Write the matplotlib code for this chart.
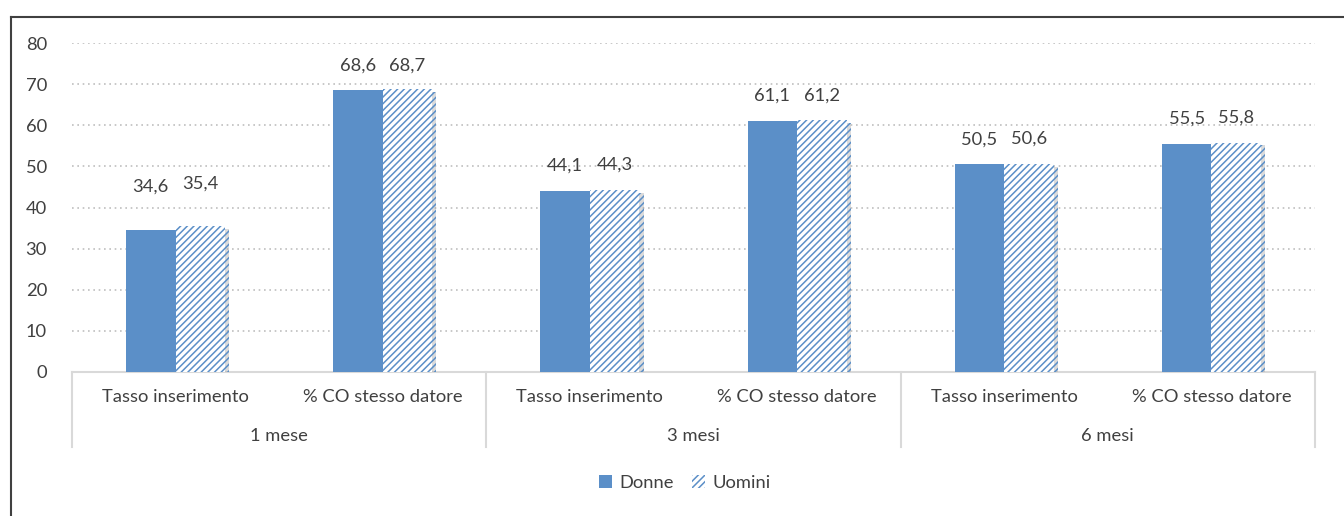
import numpy as np
import matplotlib
matplotlib.use("Agg")
import matplotlib.pyplot as plt
import matplotlib.patheffects as pe
from matplotlib.lines import Line2D
from matplotlib.patches import Patch

plt.rcParams["font.family"] = ["Lato", "DejaVu Sans"]
plt.rcParams["hatch.linewidth"] = 1.1

# ---- Data ----
categories = ["Tasso inserimento", "% CO stesso datore"] * 3
groups = ["1 mese", "3 mesi", "6 mesi"]
donne = [34.6, 68.6, 44.1, 61.1, 50.5, 55.5]
uomini = [35.4, 68.7, 44.3, 61.2, 50.6, 55.8]
series_names = ["Donne", "Uomini"]

blue = "#5b8fc8"
text_col = "#404040"
grid_col = "#bfbfbf"
axis_col = "#d9d9d9"
fs = 13.2

# label lift above bar top (pixels), first pair sits higher in the original
label_pad_px = [43, 24, 25, 25, 25, 25]

fig = plt.figure(figsize=(13.44, 5.16), dpi=100)
ax = fig.add_axes([72 / 1344, 1 - 372 / 516, (1315 - 72) / 1344, (372 - 43) / 516])

x = np.arange(len(categories))
w = 0.239
shadow = [pe.SimplePatchShadow(offset=(3, -2), shadow_rgbFace="#9a9a9a", alpha=0.35), pe.Normal()]

b1 = ax.bar(x - w / 2, donne, w, color=blue, edgecolor=blue, linewidth=0, zorder=3,
            path_effects=shadow)
b2 = ax.bar(x + w / 2, uomini, w, color="white", edgecolor=blue, hatch="/////", linewidth=0,
            zorder=3, path_effects=shadow)

for bars, vals in ((b1, donne), (b2, uomini)):
    for i, (rect, v) in enumerate(zip(bars, vals)):
        ax.annotate(f"{v:.1f}".replace(".", ","),
                    (rect.get_x() + rect.get_width() / 2, v),
                    xytext=(0, label_pad_px[i] * 0.72), textcoords="offset points",
                    ha="center", va="center", fontsize=fs, color=text_col, zorder=5)

ax.set_ylim(0, 80)
ax.set_xlim(-0.5, len(categories) - 0.5)
ax.set_yticks(np.arange(0, 81, 10))
ax.yaxis.grid(True, linestyle=(0, (1, 2.2)), color=grid_col, linewidth=1.2, zorder=0)
ax.set_axisbelow(True)
ax.tick_params(axis="y", length=0, pad=18, labelsize=fs, labelcolor=text_col)
ax.set_xticks([])
for s in ["top", "right", "left"]:
    ax.spines[s].set_visible(False)
ax.spines["bottom"].set_color(axis_col)
ax.spines["bottom"].set_linewidth(1.5)

# multi-level category axis
trans = ax.get_xaxis_transform()
for xi, cat in zip(x, categories):
    ax.text(xi, -25 / 329, cat, transform=trans, ha="center", va="center",
            fontsize=fs, color=text_col)
for gi, g in enumerate(groups):
    ax.text(2 * gi + 0.5, -64 / 329, g, transform=trans, ha="center", va="center",
            fontsize=fs, color=text_col)
for xs in np.arange(-0.5, len(categories), 2):
    ax.add_line(Line2D([xs, xs], [0, -75 / 329], transform=trans, color=axis_col,
                       linewidth=1.5, clip_on=False))

# legend
handles = [Patch(facecolor=blue, edgecolor=blue, linewidth=0),
           Patch(facecolor="white", edgecolor=blue, hatch="/////", linewidth=0)]
fig.legend(handles, series_names, loc="center", bbox_to_anchor=(685 / 1344, 1 - 483 / 516),
           ncol=2, frameon=False, fontsize=fs, handlelength=0.7, handleheight=0.7,
           handletextpad=0.4, columnspacing=1.0, labelcolor=text_col)

# chart border (left and top visible)
fig.add_artist(Line2D([11 / 1344, 11 / 1344], [0, 1 - 17 / 516], transform=fig.transFigure,
                      color="#404040", linewidth=1.5))
fig.add_artist(Line2D([11 / 1344, 1], [1 - 17 / 516, 1 - 17 / 516], transform=fig.transFigure,
                      color="#404040", linewidth=1.5))

fig.savefig("out.png", dpi=100)
